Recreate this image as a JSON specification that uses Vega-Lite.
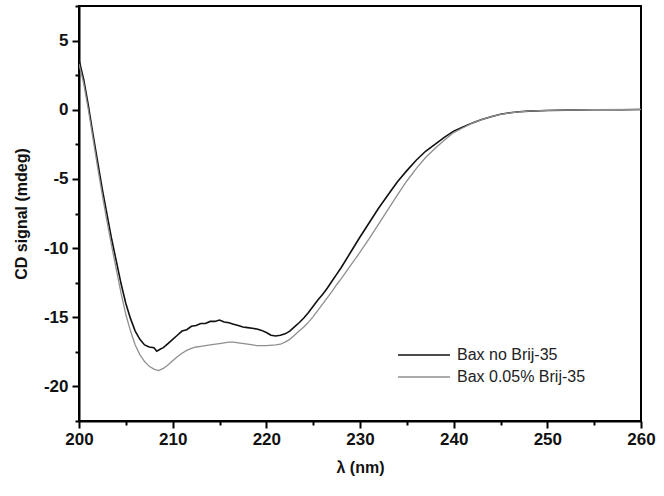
{
  "$schema": "https://vega.github.io/schema/vega-lite/v6.json",
  "autosize": {"type": "none"},
  "width": 562,
  "height": 415,
  "padding": {"left": 79, "top": 6, "right": 23, "bottom": 75},
  "background": "white",
  "config": {
    "view": {"stroke": "#000000", "strokeWidth": 2},
    "font": "Liberation Sans"
  },
  "datasets": {
    "cd": [
      {"wl": 200, "cd": 3.6, "series": "Bax no Brij-35"},
      {"wl": 200.5, "cd": 2.2, "series": "Bax no Brij-35"},
      {"wl": 201, "cd": 0.3, "series": "Bax no Brij-35"},
      {"wl": 201.5, "cd": -1.8, "series": "Bax no Brij-35"},
      {"wl": 202, "cd": -3.8, "series": "Bax no Brij-35"},
      {"wl": 202.5, "cd": -5.8, "series": "Bax no Brij-35"},
      {"wl": 203, "cd": -7.6, "series": "Bax no Brij-35"},
      {"wl": 203.5, "cd": -9.4, "series": "Bax no Brij-35"},
      {"wl": 204, "cd": -11.0, "series": "Bax no Brij-35"},
      {"wl": 204.5, "cd": -12.6, "series": "Bax no Brij-35"},
      {"wl": 205, "cd": -14.0, "series": "Bax no Brij-35"},
      {"wl": 205.5, "cd": -15.1, "series": "Bax no Brij-35"},
      {"wl": 206, "cd": -16.0, "series": "Bax no Brij-35"},
      {"wl": 206.5, "cd": -16.6, "series": "Bax no Brij-35"},
      {"wl": 207, "cd": -17.0, "series": "Bax no Brij-35"},
      {"wl": 207.5, "cd": -17.15, "series": "Bax no Brij-35"},
      {"wl": 208, "cd": -17.2, "series": "Bax no Brij-35"},
      {"wl": 208.3, "cd": -17.45, "series": "Bax no Brij-35"},
      {"wl": 208.7, "cd": -17.3, "series": "Bax no Brij-35"},
      {"wl": 209, "cd": -17.2, "series": "Bax no Brij-35"},
      {"wl": 209.5, "cd": -16.9, "series": "Bax no Brij-35"},
      {"wl": 210, "cd": -16.6, "series": "Bax no Brij-35"},
      {"wl": 210.5, "cd": -16.3, "series": "Bax no Brij-35"},
      {"wl": 211, "cd": -16.0, "series": "Bax no Brij-35"},
      {"wl": 211.5, "cd": -15.9, "series": "Bax no Brij-35"},
      {"wl": 212, "cd": -15.65, "series": "Bax no Brij-35"},
      {"wl": 212.5, "cd": -15.6, "series": "Bax no Brij-35"},
      {"wl": 213, "cd": -15.45, "series": "Bax no Brij-35"},
      {"wl": 213.5, "cd": -15.45, "series": "Bax no Brij-35"},
      {"wl": 214, "cd": -15.3, "series": "Bax no Brij-35"},
      {"wl": 214.5, "cd": -15.3, "series": "Bax no Brij-35"},
      {"wl": 215, "cd": -15.2, "series": "Bax no Brij-35"},
      {"wl": 215.5, "cd": -15.35, "series": "Bax no Brij-35"},
      {"wl": 216, "cd": -15.4, "series": "Bax no Brij-35"},
      {"wl": 216.5, "cd": -15.5, "series": "Bax no Brij-35"},
      {"wl": 217, "cd": -15.6, "series": "Bax no Brij-35"},
      {"wl": 217.5, "cd": -15.7, "series": "Bax no Brij-35"},
      {"wl": 218, "cd": -15.75, "series": "Bax no Brij-35"},
      {"wl": 218.5, "cd": -15.8, "series": "Bax no Brij-35"},
      {"wl": 219, "cd": -15.85, "series": "Bax no Brij-35"},
      {"wl": 219.5, "cd": -15.95, "series": "Bax no Brij-35"},
      {"wl": 220, "cd": -16.1, "series": "Bax no Brij-35"},
      {"wl": 220.5, "cd": -16.3, "series": "Bax no Brij-35"},
      {"wl": 221, "cd": -16.35, "series": "Bax no Brij-35"},
      {"wl": 221.5, "cd": -16.3, "series": "Bax no Brij-35"},
      {"wl": 222, "cd": -16.2, "series": "Bax no Brij-35"},
      {"wl": 222.5, "cd": -16.0, "series": "Bax no Brij-35"},
      {"wl": 223, "cd": -15.7, "series": "Bax no Brij-35"},
      {"wl": 223.5, "cd": -15.4, "series": "Bax no Brij-35"},
      {"wl": 224, "cd": -15.05, "series": "Bax no Brij-35"},
      {"wl": 224.5, "cd": -14.65, "series": "Bax no Brij-35"},
      {"wl": 225, "cd": -14.2, "series": "Bax no Brij-35"},
      {"wl": 225.5, "cd": -13.75, "series": "Bax no Brij-35"},
      {"wl": 226, "cd": -13.35, "series": "Bax no Brij-35"},
      {"wl": 226.5, "cd": -12.9, "series": "Bax no Brij-35"},
      {"wl": 227, "cd": -12.4, "series": "Bax no Brij-35"},
      {"wl": 227.5, "cd": -11.9, "series": "Bax no Brij-35"},
      {"wl": 228, "cd": -11.4, "series": "Bax no Brij-35"},
      {"wl": 229, "cd": -10.3, "series": "Bax no Brij-35"},
      {"wl": 230, "cd": -9.2, "series": "Bax no Brij-35"},
      {"wl": 231, "cd": -8.15, "series": "Bax no Brij-35"},
      {"wl": 232, "cd": -7.1, "series": "Bax no Brij-35"},
      {"wl": 233, "cd": -6.15, "series": "Bax no Brij-35"},
      {"wl": 234, "cd": -5.2, "series": "Bax no Brij-35"},
      {"wl": 235, "cd": -4.4, "series": "Bax no Brij-35"},
      {"wl": 236, "cd": -3.65, "series": "Bax no Brij-35"},
      {"wl": 237, "cd": -3.0, "series": "Bax no Brij-35"},
      {"wl": 238, "cd": -2.5, "series": "Bax no Brij-35"},
      {"wl": 239, "cd": -2.0, "series": "Bax no Brij-35"},
      {"wl": 240, "cd": -1.55, "series": "Bax no Brij-35"},
      {"wl": 241, "cd": -1.25, "series": "Bax no Brij-35"},
      {"wl": 242, "cd": -0.95, "series": "Bax no Brij-35"},
      {"wl": 243, "cd": -0.7, "series": "Bax no Brij-35"},
      {"wl": 244, "cd": -0.5, "series": "Bax no Brij-35"},
      {"wl": 245, "cd": -0.33, "series": "Bax no Brij-35"},
      {"wl": 246, "cd": -0.22, "series": "Bax no Brij-35"},
      {"wl": 247, "cd": -0.15, "series": "Bax no Brij-35"},
      {"wl": 248, "cd": -0.1, "series": "Bax no Brij-35"},
      {"wl": 250, "cd": -0.05, "series": "Bax no Brij-35"},
      {"wl": 252, "cd": -0.03, "series": "Bax no Brij-35"},
      {"wl": 255, "cd": 0.0, "series": "Bax no Brij-35"},
      {"wl": 258, "cd": 0.0, "series": "Bax no Brij-35"},
      {"wl": 260, "cd": 0.02, "series": "Bax no Brij-35"},
      {"wl": 200, "cd": 3.3, "series": "Bax 0.05% Brij-35"},
      {"wl": 200.5, "cd": 1.9, "series": "Bax 0.05% Brij-35"},
      {"wl": 201, "cd": 0.0, "series": "Bax 0.05% Brij-35"},
      {"wl": 201.5, "cd": -2.1, "series": "Bax 0.05% Brij-35"},
      {"wl": 202, "cd": -4.2, "series": "Bax 0.05% Brij-35"},
      {"wl": 202.5, "cd": -6.2, "series": "Bax 0.05% Brij-35"},
      {"wl": 203, "cd": -8.1, "series": "Bax 0.05% Brij-35"},
      {"wl": 203.5, "cd": -9.9, "series": "Bax 0.05% Brij-35"},
      {"wl": 204, "cd": -11.6, "series": "Bax 0.05% Brij-35"},
      {"wl": 204.5, "cd": -13.3, "series": "Bax 0.05% Brij-35"},
      {"wl": 205, "cd": -14.8, "series": "Bax 0.05% Brij-35"},
      {"wl": 205.5, "cd": -16.0, "series": "Bax 0.05% Brij-35"},
      {"wl": 206, "cd": -17.0, "series": "Bax 0.05% Brij-35"},
      {"wl": 206.5, "cd": -17.7, "series": "Bax 0.05% Brij-35"},
      {"wl": 207, "cd": -18.2, "series": "Bax 0.05% Brij-35"},
      {"wl": 207.5, "cd": -18.55, "series": "Bax 0.05% Brij-35"},
      {"wl": 208, "cd": -18.75, "series": "Bax 0.05% Brij-35"},
      {"wl": 208.5, "cd": -18.85, "series": "Bax 0.05% Brij-35"},
      {"wl": 209, "cd": -18.7, "series": "Bax 0.05% Brij-35"},
      {"wl": 209.5, "cd": -18.45, "series": "Bax 0.05% Brij-35"},
      {"wl": 210, "cd": -18.15, "series": "Bax 0.05% Brij-35"},
      {"wl": 210.5, "cd": -17.85, "series": "Bax 0.05% Brij-35"},
      {"wl": 211, "cd": -17.6, "series": "Bax 0.05% Brij-35"},
      {"wl": 211.5, "cd": -17.4, "series": "Bax 0.05% Brij-35"},
      {"wl": 212, "cd": -17.25, "series": "Bax 0.05% Brij-35"},
      {"wl": 212.5, "cd": -17.15, "series": "Bax 0.05% Brij-35"},
      {"wl": 213, "cd": -17.1, "series": "Bax 0.05% Brij-35"},
      {"wl": 213.5, "cd": -17.05, "series": "Bax 0.05% Brij-35"},
      {"wl": 214, "cd": -17.0, "series": "Bax 0.05% Brij-35"},
      {"wl": 215, "cd": -16.9, "series": "Bax 0.05% Brij-35"},
      {"wl": 216, "cd": -16.8, "series": "Bax 0.05% Brij-35"},
      {"wl": 216.5, "cd": -16.8, "series": "Bax 0.05% Brij-35"},
      {"wl": 217, "cd": -16.85, "series": "Bax 0.05% Brij-35"},
      {"wl": 218, "cd": -16.95, "series": "Bax 0.05% Brij-35"},
      {"wl": 219, "cd": -17.05, "series": "Bax 0.05% Brij-35"},
      {"wl": 220, "cd": -17.05, "series": "Bax 0.05% Brij-35"},
      {"wl": 221, "cd": -17.0, "series": "Bax 0.05% Brij-35"},
      {"wl": 221.5, "cd": -16.95, "series": "Bax 0.05% Brij-35"},
      {"wl": 222, "cd": -16.8, "series": "Bax 0.05% Brij-35"},
      {"wl": 222.5, "cd": -16.6, "series": "Bax 0.05% Brij-35"},
      {"wl": 223, "cd": -16.3, "series": "Bax 0.05% Brij-35"},
      {"wl": 223.5, "cd": -16.0, "series": "Bax 0.05% Brij-35"},
      {"wl": 224, "cd": -15.7, "series": "Bax 0.05% Brij-35"},
      {"wl": 224.5, "cd": -15.35, "series": "Bax 0.05% Brij-35"},
      {"wl": 225, "cd": -14.95, "series": "Bax 0.05% Brij-35"},
      {"wl": 225.5, "cd": -14.5, "series": "Bax 0.05% Brij-35"},
      {"wl": 226, "cd": -14.05, "series": "Bax 0.05% Brij-35"},
      {"wl": 226.5, "cd": -13.6, "series": "Bax 0.05% Brij-35"},
      {"wl": 227, "cd": -13.15, "series": "Bax 0.05% Brij-35"},
      {"wl": 227.5, "cd": -12.65, "series": "Bax 0.05% Brij-35"},
      {"wl": 228, "cd": -12.2, "series": "Bax 0.05% Brij-35"},
      {"wl": 229, "cd": -11.25, "series": "Bax 0.05% Brij-35"},
      {"wl": 230, "cd": -10.3, "series": "Bax 0.05% Brij-35"},
      {"wl": 231, "cd": -9.3, "series": "Bax 0.05% Brij-35"},
      {"wl": 232, "cd": -8.25, "series": "Bax 0.05% Brij-35"},
      {"wl": 233, "cd": -7.2, "series": "Bax 0.05% Brij-35"},
      {"wl": 234, "cd": -6.15, "series": "Bax 0.05% Brij-35"},
      {"wl": 235, "cd": -5.15, "series": "Bax 0.05% Brij-35"},
      {"wl": 236, "cd": -4.25, "series": "Bax 0.05% Brij-35"},
      {"wl": 237, "cd": -3.45, "series": "Bax 0.05% Brij-35"},
      {"wl": 238, "cd": -2.8, "series": "Bax 0.05% Brij-35"},
      {"wl": 239, "cd": -2.2, "series": "Bax 0.05% Brij-35"},
      {"wl": 240, "cd": -1.65, "series": "Bax 0.05% Brij-35"},
      {"wl": 241, "cd": -1.3, "series": "Bax 0.05% Brij-35"},
      {"wl": 242, "cd": -0.97, "series": "Bax 0.05% Brij-35"},
      {"wl": 243, "cd": -0.72, "series": "Bax 0.05% Brij-35"},
      {"wl": 244, "cd": -0.5, "series": "Bax 0.05% Brij-35"},
      {"wl": 245, "cd": -0.33, "series": "Bax 0.05% Brij-35"},
      {"wl": 246, "cd": -0.22, "series": "Bax 0.05% Brij-35"},
      {"wl": 247, "cd": -0.15, "series": "Bax 0.05% Brij-35"},
      {"wl": 248, "cd": -0.1, "series": "Bax 0.05% Brij-35"},
      {"wl": 250, "cd": -0.05, "series": "Bax 0.05% Brij-35"},
      {"wl": 255, "cd": 0.0, "series": "Bax 0.05% Brij-35"},
      {"wl": 260, "cd": 0.02, "series": "Bax 0.05% Brij-35"}
    ]
  },
  "data": {"name": "cd"},
  "mark": {"type": "line", "clip": true, "interpolate": "linear"},
  "encoding": {
    "x": {
      "field": "wl", "type": "quantitative",
      "scale": {"domain": [200, 260], "nice": false, "zero": false},
      "axis": {
        "orient": "bottom", "values": [200, 205, 210, 215, 220, 225, 230, 235, 240, 245, 250, 255, 260],
        "labelExpr": "datum.value % 10 === 0 ? toString(datum.value) : ''",
        "title": "λ (nm)", "grid": false,
        "domainColor": "#000000", "domainWidth": 2,
        "tickColor": "#000000", "tickWidth": 2,
        "tickSize": {"condition": {"test": "datum.value % 10 === 0", "value": 7}, "value": 4},
        "labelFont": "Liberation Sans", "labelFontSize": 17, "labelFontWeight": "bold",
        "labelColor": "#111111", "labelPadding": 3, "labelFlush": false, "labelOverlap": false,
        "titleFont": "Liberation Sans", "titleFontSize": 16, "titleFontWeight": "bold",
        "titleColor": "#111111", "titlePadding": 12
      }
    },
    "y": {
      "field": "cd", "type": "quantitative",
      "scale": {"domain": [-22.5, 7.5], "nice": false, "zero": false},
      "axis": {
        "orient": "left", "values": [-22.5, -20, -17.5, -15, -12.5, -10, -7.5, -5, -2.5, 0, 2.5, 5, 7.5],
        "labelExpr": "datum.value % 5 === 0 ? toString(datum.value) : ''",
        "title": "CD signal (mdeg)", "grid": false,
        "domainColor": "#000000", "domainWidth": 2,
        "tickColor": "#000000", "tickWidth": 2,
        "tickSize": {"condition": {"test": "datum.value % 5 === 0", "value": 7}, "value": 4},
        "labelFont": "Liberation Sans", "labelFontSize": 17, "labelFontWeight": "bold",
        "labelColor": "#111111", "labelPadding": 4, "labelFlush": false, "labelOverlap": false,
        "titleFont": "Liberation Sans", "titleFontSize": 16, "titleFontWeight": "bold",
        "titleColor": "#111111", "titlePadding": 14
      }
    },
    "color": {
      "field": "series", "type": "nominal",
      "scale": {"domain": ["Bax no Brij-35", "Bax 0.05% Brij-35"], "range": ["#111111", "#8f8f8f"]},
      "legend": {
        "title": null, "orient": "none", "legendX": 318, "legendY": 340,
        "symbolType": "stroke", "symbolSize": 2700, "symbolStrokeWidth": 1.5,
        "clipHeight": 18,
        "labelFont": "Liberation Sans", "labelFontSize": 16, "labelColor": "#222222",
        "rowPadding": 4, "labelOffset": 6
      }
    },
    "strokeWidth": {
      "field": "series", "type": "nominal",
      "scale": {"domain": ["Bax no Brij-35", "Bax 0.05% Brij-35"], "range": [1.6, 1.3]},
      "legend": null
    }
  }
}
